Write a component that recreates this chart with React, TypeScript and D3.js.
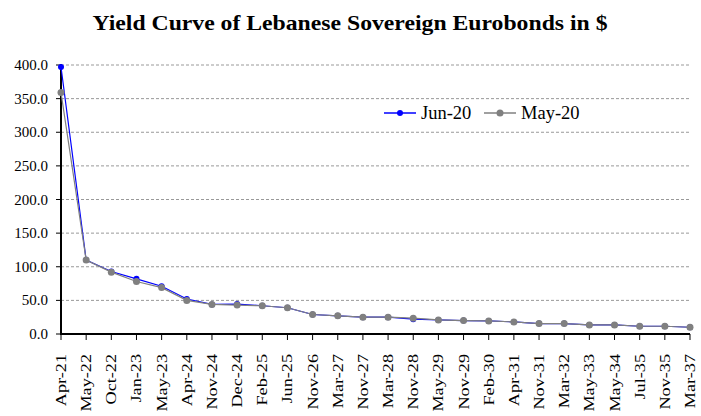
import React from "react";
import * as d3 from "d3";

const categories = ["Apr-21","May-22","Oct-22","Jan-23","May-23","Apr-24","Nov-24","Dec-24","Feb-25","Jun-25","Nov-26","Mar-27","Nov-27","Mar-28","Nov-28","May-29","Nov-29","Feb-30","Apr-31","Nov-31","Mar-32","May-33","May-34","Jul-35","Nov-35","Mar-37"];
const jun20 = [397,110,93,82,71,52,44,44.5,42,39,29,27,25,25,22,21,20,19.5,18,15.5,15.5,13.5,13.5,11.5,11.5,10];
const may20 = [359,110,92,78,69,50,44,43,42,39,29,27,25,25,23.5,21,20,19.5,18,15.5,15.5,13.5,13.5,11.5,11.5,10];
const yTicks = [0,50,100,150,200,250,300,350,400];
const title = "Yield Curve of Lebanese Sovereign Eurobonds in $";

const series = [
  { name: "Jun-20", values: jun20, color: "#0000FF", r: 3 },
  { name: "May-20", values: may20, color: "#808080", r: 3.5 },
];

export default function App() {
  const W = 701, H = 416;
  const x = d3.scalePoint<string>().domain(categories).range([61, 690]);
  const y = d3.scaleLinear().domain([0, 400]).range([334, 65]);
  const line = d3.line<number>().x((_, i) => x(categories[i])!).y(d => y(d));
  const font = "Liberation Serif";
  return (
    <svg width={W} height={H} style={{ position: "absolute", left: 0, top: 0, background: "#fff", fontFamily: font }}>
      <text x={350} y={30} textAnchor="middle" style={{ fontFamily: font }} fontWeight="bold" fontSize={22}
        textLength={515} lengthAdjust="spacingAndGlyphs">{title}</text>
      {yTicks.map(t => (
        <g key={t}>
          {t > 0 && <line x1={61} x2={690} y1={y(t)} y2={y(t)} stroke="#999" strokeWidth={1} strokeDasharray="3,2" />}
          <line x1={56} x2={61} y1={y(t)} y2={y(t)} stroke="#000" strokeWidth={1} />
          <text x={48} y={y(t) + 5} textAnchor="end" style={{ fontFamily: font }} fontSize={15} fill="#000">{t.toFixed(1)}</text>
        </g>
      ))}
      {categories.map(c => (
        <g key={c}>
          <line x1={x(c)!} x2={x(c)!} y1={334} y2={340} stroke="#000" strokeWidth={1} />
          <text transform={`translate(${x(c)! + 5},${354}) rotate(-90) scale(1.3,1)`} textAnchor="end"
            style={{ fontFamily: font }} fontSize={14} fill="#000">{c}</text>
        </g>
      ))}
      <line x1={61} x2={61} y1={64} y2={335} stroke="#000" strokeWidth={2} />
      <line x1={60} x2={690} y1={334} y2={334} stroke="#000" strokeWidth={2} />
      {series.map(s => (
        <g key={s.name}>
          <path d={line(s.values)!} fill="none" stroke={s.color} strokeWidth={1.2} />
          {s.values.map((v, i) => (
            <circle key={i} cx={x(categories[i])!} cy={y(v)} r={s.r} fill={s.color} />
          ))}
        </g>
      ))}
      {series.map((s, i) => {
        const lx = 384 + i * 100;
        return (
          <g key={s.name}>
            <line x1={lx} x2={lx + 32} y1={113} y2={113} stroke={s.color} strokeWidth={1.5} />
            <circle cx={lx + 16} cy={113} r={s.r} fill={s.color} />
            <text x={lx + 37} y={119} style={{ fontFamily: font }} fontSize={18.5} fill="#000">{s.name}</text>
          </g>
        );
      })}
    </svg>
  );
}
